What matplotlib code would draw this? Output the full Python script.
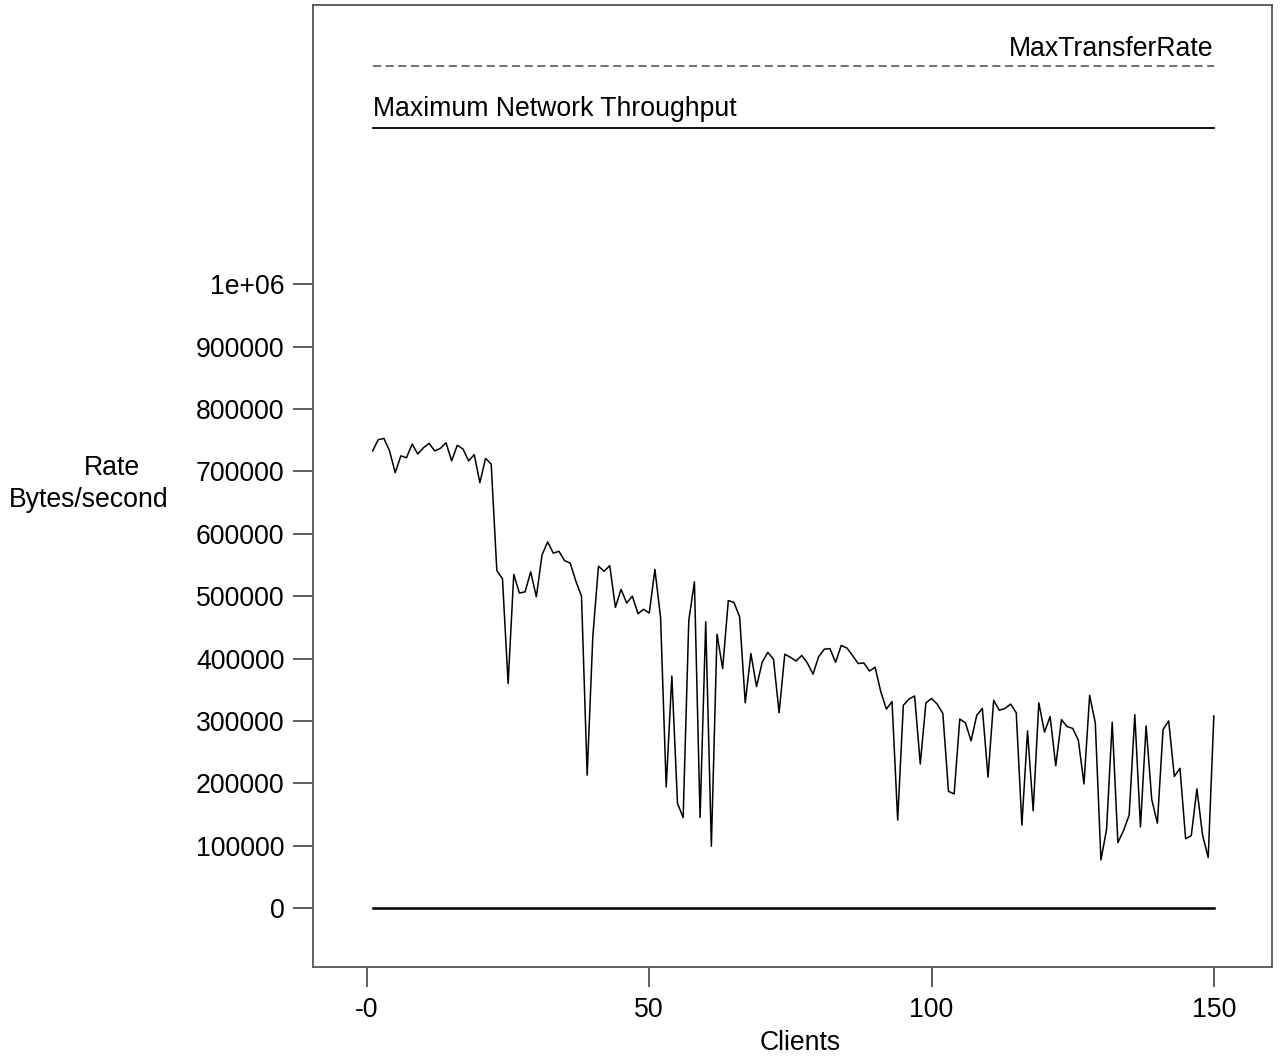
import matplotlib
matplotlib.use("Agg")
import matplotlib.pyplot as plt

plt.rcParams['font.family'] = ['Liberation Sans', 'DejaVu Sans']

clients = list(range(1, 151))
rate = [
    733000, 751000, 753000, 733000, 698000, 725000, 722000, 744000, 728000, 738000,
    745000, 733000, 737000, 746000, 717000, 742000, 736000, 717000, 727000, 682000,
    721000, 712000, 541000, 528000, 360000, 535000, 505000, 507000, 539000, 499000,
    566000, 587000, 569000, 572000, 557000, 553000, 524000, 500000, 213000, 435000,
    548000, 540000, 549000, 482000, 511000, 489000, 500000, 472000, 479000, 473000,
    543000, 466000, 194000, 372000, 168000, 145000, 461000, 523000, 145000, 459000,
    99000, 439000, 384000, 493000, 490000, 467000, 329000, 408000, 355000, 394000,
    410000, 399000, 313000, 407000, 402000, 396000, 405000, 393000, 375000, 403000,
    415000, 416000, 394000, 421000, 417000, 405000, 392000, 393000, 380000, 386000,
    347000, 319000, 331000, 141000, 325000, 335000, 340000, 231000, 329000, 336000,
    327000, 312000, 187000, 183000, 303000, 297000, 268000, 309000, 320000, 210000,
    333000, 317000, 320000, 327000, 313000, 133000, 284000, 156000, 329000, 282000,
    307000, 228000, 302000, 291000, 288000, 269000, 199000, 341000, 297000, 77000,
    126000, 298000, 105000, 124000, 149000, 310000, 130000, 292000, 174000, 136000,
    286000, 300000, 211000, 224000, 111000, 116000, 191000, 117000, 81000, 308000,
]
max_transfer_rate = 1350000
max_network_throughput = 1250000
x_ticks = [0, 50, 100, 150]
x_tick_labels = ["-0", "50", "100", "150"]
y_ticks = [0, 100000, 200000, 300000, 400000, 500000, 600000, 700000, 800000, 900000, 1000000]
y_tick_labels = ["0", "100000", "200000", "300000", "400000", "500000", "600000",
                 "700000", "800000", "900000", "1e+06"]

fig = plt.figure(figsize=(12.8, 10.59), dpi=100)
ax = fig.add_axes([313/1280, 1 - 967/1059, (1272-313)/1280, (967-5)/1059])

fs = 19.2
x0, x1 = clients[0], clients[-1]
ax.plot([x0, x1], [max_transfer_rate]*2, color='#666666', lw=1.3, linestyle=(0, (4.5, 2.5)))
ax.plot([x0, x1], [max_network_throughput]*2, color='black', lw=1.3)
ax.plot([x0, x1], [0, 0], color='black', lw=1.8)
ax.plot(clients, rate, color='black', lw=1.1)

ax.text(x1, 1367000, "MaxTransferRate", ha='right', va='baseline', fontsize=fs)
ax.text(x0, 1270000, "Maximum Network Throughput", ha='left', va='baseline', fontsize=fs)

ax.set_xlim(-9.56, 160.3)
ax.set_ylim(-94600, 1448000)
ax.set_xticks(x_ticks)
ax.set_xticklabels(x_tick_labels)
ax.set_yticks(y_ticks)
ax.set_yticklabels(y_tick_labels)
ax.tick_params(axis='both', direction='out', length=14.5, width=1.1, color='#333333',
               labelsize=fs)
ax.tick_params(axis='x', pad=7)
ax.tick_params(axis='y', pad=6)
for s in ax.spines.values():
    s.set_color('#555555')
    s.set_linewidth(1.3)

fig.text(112/1280, 1 - 468/1059, "Rate", ha='center', va='center', fontsize=fs)
fig.text(89/1280, 1 - 500/1059, "Bytes/second", ha='center', va='center', fontsize=fs)
fig.text(800/1280, 1 - 1043/1059, "Clients", ha='center', va='center', fontsize=fs)

fig.savefig("out.png", dpi=100)
